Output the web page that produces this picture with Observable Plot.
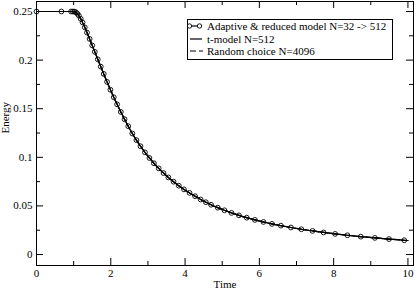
<!DOCTYPE html>
<html>
<head>
<meta charset="utf-8">
<script src="https://cdn.jsdelivr.net/npm/d3@7"></script>
<script src="https://cdn.jsdelivr.net/npm/@observablehq/plot@0.6"></script>
<style>
  html, body { margin: 0; padding: 0; background: #fff; }
  #chart { width: 415px; height: 289px; }
</style>
</head>
<body>
<div id="chart"></div>
<script>
// Adaptive & reduced model (markers + line)
const times = [0, 0.67, 0.93, 0.98, 1.02, 1.06, 1.1, 1.14, 1.19, 1.24, 1.3, 1.36, 1.43, 1.5,
  1.57, 1.65, 1.73, 1.81, 1.9, 1.99, 2.08, 2.17, 2.27, 2.37, 2.47, 2.58, 2.69, 2.8, 2.92, 3.04,
  3.16, 3.29, 3.42, 3.55, 3.69, 3.83, 3.97, 4.12, 4.27, 4.42, 4.56, 4.7, 4.88, 5.06, 5.25, 5.45,
  5.66, 5.88, 6.11, 6.34, 6.58, 6.85, 7.13, 7.43, 7.73, 8.04, 8.37, 8.73, 9.11, 9.49, 9.9];
const energy = [0.25, 0.25, 0.25, 0.25, 0.2499, 0.2493, 0.2478, 0.2458, 0.2425, 0.2388, 0.2337,
  0.2283, 0.2218, 0.2151, 0.2085, 0.2008, 0.1933, 0.1858, 0.1776, 0.1695, 0.1618, 0.1545, 0.1467,
  0.1392, 0.1320, 0.1245, 0.1177, 0.1114, 0.1051, 0.0993, 0.0939, 0.0886, 0.0838, 0.0793, 0.0749,
  0.0708, 0.0670, 0.0634, 0.0600, 0.0566, 0.0538, 0.0512, 0.0482, 0.0455, 0.0428, 0.0403, 0.0379,
  0.0356, 0.0335, 0.0315, 0.0297, 0.0278, 0.0260, 0.0243, 0.0227, 0.0212, 0.0198, 0.0184, 0.0171,
  0.0159, 0.0147];
// t-model N=512 and Random choice N=4096 (visually coincident with the adaptive curve)
const tModelTime = times.concat([10]);
const tModelEnergy = energy.concat([0.0144]);
const randomTime = times.concat([10]);
const randomEnergy = energy.concat([0.0144]);

const xMajor = [0, 2, 4, 6, 8, 10];
const xMinor = [1, 3, 5, 7, 9];
const yMajor = [0, 0.05, 0.1, 0.15, 0.2, 0.25];
const yMinor = [0.025, 0.075, 0.125, 0.175, 0.225];
const yLabels = ["0", "0.05", "0.1", "0.15", "0.2", "0.25"];
const seriesNames = ["Adaptive & reduced model N=32 -> 512", "t-model N=512", "Random choice N=4096"];

const adaptive = times.map((t, i) => ({t, e: energy[i]}));
const tModel = tModelTime.map((t, i) => ({t, e: tModelEnergy[i]}));
const randomChoice = randomTime.map((t, i) => ({t, e: randomEnergy[i]}));

const W = 415, H = 289;
const mL = 36, mR = 2, mT = 1, mB = 24;
const fw = W - mL - mR, fh = H - mT - mB;
const major = 7, minor = 4;

const chart = Plot.plot({
  width: W, height: H,
  marginLeft: mL, marginRight: mR, marginTop: mT, marginBottom: mB,
  style: {fontFamily: "Liberation Serif", fontSize: "11px", background: "#fff", color: "#000"},
  x: {domain: [0, 10.15]},
  y: {domain: [-0.0113, 0.2603]},
  marks: [
    Plot.line(randomChoice, {x: "t", y: "e", curve: "monotone-x", stroke: "#000", strokeWidth: 1.2, strokeDasharray: "6,3"}),
    Plot.line(tModel, {x: "t", y: "e", curve: "monotone-x", stroke: "#000", strokeWidth: 1.2}),
    Plot.line(adaptive, {x: "t", y: "e", curve: "monotone-x", stroke: "#000", strokeWidth: 1.2}),
    Plot.dot(adaptive, {x: "t", y: "e", r: 2.4, stroke: "#000", strokeWidth: 0.9, fill: "none"}),
    // inward ticks: bottom & top
    Plot.tickX(xMajor, {x: d => d, insetTop: fh - major, stroke: "#000"}),
    Plot.tickX(xMinor, {x: d => d, insetTop: fh - minor, stroke: "#000"}),
    Plot.tickX(xMajor, {x: d => d, insetBottom: fh - major, stroke: "#000"}),
    Plot.tickX(xMinor, {x: d => d, insetBottom: fh - minor, stroke: "#000"}),
    // inward ticks: left & right
    Plot.tickY(yMajor, {y: d => d, insetRight: fw - major, stroke: "#000"}),
    Plot.tickY(yMinor, {y: d => d, insetRight: fw - minor, stroke: "#000"}),
    Plot.tickY(yMajor, {y: d => d, insetLeft: fw - major, stroke: "#000"}),
    Plot.tickY(yMinor, {y: d => d, insetLeft: fw - minor, stroke: "#000"}),
    Plot.frame({stroke: "#000", strokeWidth: 1}),
    Plot.axisX({ticks: xMajor, tickSize: 0, tickPadding: 4, label: null, tickFormat: d => String(d)}),
    Plot.axisY({ticks: yMajor, tickSize: 0, tickPadding: 4, label: null, tickFormat: d => yLabels[yMajor.indexOf(d)]}),
    Plot.text(["Time"], {frameAnchor: "bottom", dy: 19, lineAnchor: "middle", fill: "#000"}),
    Plot.text(["Energy"], {frameAnchor: "left", dx: -31, rotate: -90, lineAnchor: "middle", fill: "#000"})
  ]
});
document.getElementById("chart").appendChild(chart);

// Legend box
const svg = d3.select(chart);
const lg = svg.append("g").attr("font-family", "Liberation Serif").attr("font-size", 11).attr("text-anchor", "start");
lg.append("rect").attr("x", 187.5).attr("y", 19.5).attr("width", 205).attr("height", 40)
  .attr("fill", "#fff").attr("stroke", "#000");
const rowsY = [26, 39, 51];
// row 1: line with circles
lg.append("line").attr("x1", 189).attr("x2", 200).attr("y1", rowsY[0]).attr("y2", rowsY[0]).attr("stroke", "#000").attr("stroke-width", 1.2);
[189.5, 199.5].forEach(cx => lg.append("circle").attr("cx", cx).attr("cy", rowsY[0]).attr("r", 2.2)
  .attr("fill", "#fff").attr("stroke", "#000").attr("stroke-width", 0.9));
// row 2: solid
lg.append("line").attr("x1", 190).attr("x2", 202).attr("y1", rowsY[1]).attr("y2", rowsY[1]).attr("stroke", "#000").attr("stroke-width", 1.2);
// row 3: dashed
lg.append("line").attr("x1", 190).attr("x2", 203).attr("y1", rowsY[2]).attr("y2", rowsY[2]).attr("stroke", "#000").attr("stroke-width", 1.2).attr("stroke-dasharray", "6,3");
seriesNames.forEach((name, i) => {
  lg.append("text").attr("x", 207).attr("y", rowsY[i]).attr("dy", "0.35em").attr("text-anchor", "start").attr("fill", "#000").text(name);
});
</script>
</body>
</html>
